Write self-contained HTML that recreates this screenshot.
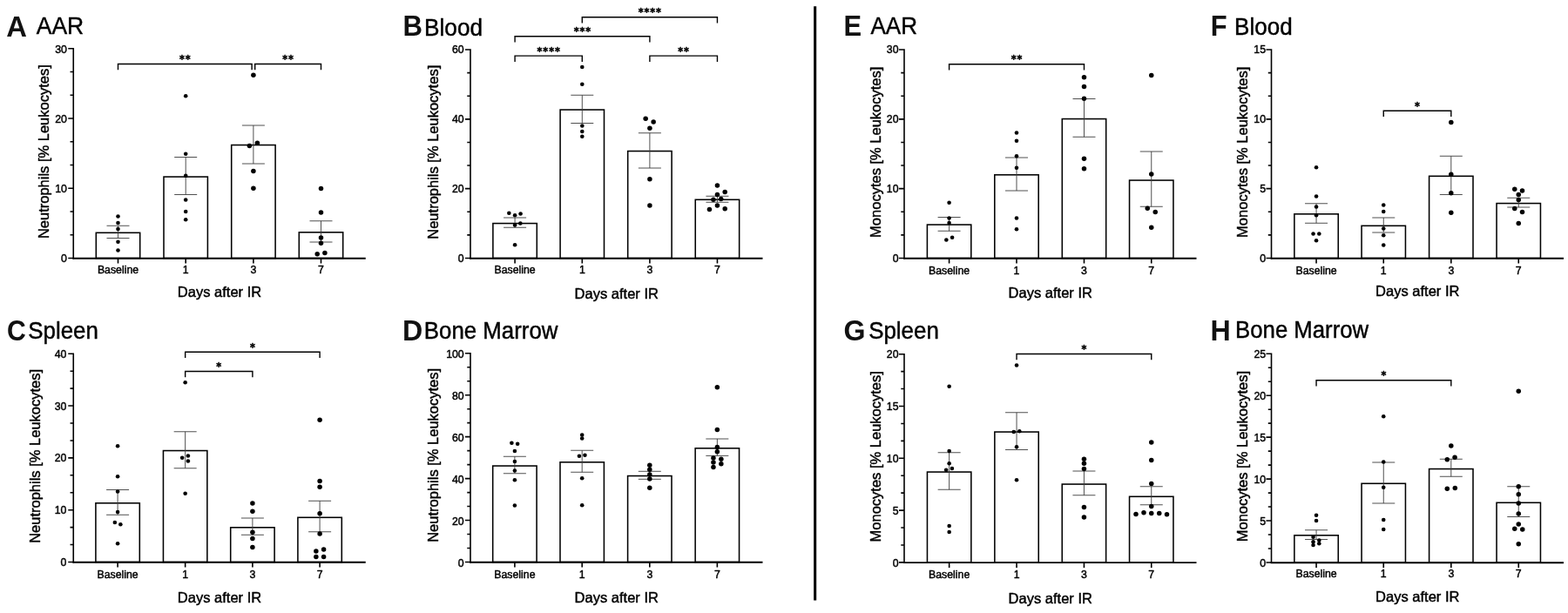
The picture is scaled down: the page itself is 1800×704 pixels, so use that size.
<!DOCTYPE html>
<html lang="en">
<head>
<meta charset="utf-8">
<title>Neutrophils and monocytes after IR</title>
<style>
html,body{margin:0;padding:0;background:#fff;}
body{width:1800px;height:704px;overflow:hidden;}
svg{display:block;filter:blur(0.35px);font-family:"Liberation Sans",sans-serif;}
.pl{font-weight:bold;fill:#111;stroke:none !important;}
.pt{fill:#000;}
.tk{font-size:12.3px;fill:#000;}
.at{font-size:16.5px;fill:#000;}
.st{font-family:"DejaVu Sans","Liberation Sans",sans-serif;font-weight:bold;fill:#000;stroke:#000;stroke-width:0.55px;}
.bar{fill:#fff;stroke:#000;stroke-width:1.55;}
.err{fill:none;stroke:#3c3c3c;stroke-width:0.9;}
.axis{fill:none;stroke:#000;stroke-width:1.6;}
.xaxis{fill:none;stroke:#000;stroke-width:1.85;}
.br{fill:none;stroke:#000;stroke-width:1.4;}
circle{fill:#000;}
text{stroke:#000;stroke-width:0.45px;stroke-linejoin:round;}
</style>
</head>
<body>
<svg width="1800" height="704" viewBox="0 0 1800 704">
<rect x="0" y="0" width="1800" height="704" fill="#fff"/>
<line x1="935.65" y1="7.3" x2="935.65" y2="689.5" stroke="#000" stroke-width="3.1"/>
<g>
<text class="pl" font-size="33.45" transform="translate(7.18 41.5) scale(0.9815 1)">A</text>
<text class="pt" font-size="27.64" transform="translate(41.73 39) scale(0.9589 1)">AAR</text>
<rect class="bar" x="110.3" y="267.3" width="50.4" height="29.2"/>
<rect class="bar" x="188" y="203.05" width="50.4" height="93.45"/>
<rect class="bar" x="265.7" y="166.55" width="50.4" height="129.95"/>
<rect class="bar" x="343.3" y="266.8" width="50.4" height="29.7"/>
<path class="err" d="M135.5 259.25V273.5M122.5 259.25H148.5M122.5 273.5H148.5M213.2 180.5V223.5M200.2 180.5H226.2M200.2 223.5H226.2M290.9 144V188M277.9 144H303.9M277.9 188H303.9M368.5 253.75V278M355.5 253.75H381.5M355.5 278H381.5"/>
<path class="xaxis" d="M83.45 296.75H419.75"/>
<path class="axis" d="M84.25 55V297.5M84.25 296.5H78.25M84.25 216.27H78.25M84.25 136.03H78.25M84.25 55.8H78.25M84.25 269.76H80.55M84.25 243.01H80.55M84.25 189.52H80.55M84.25 162.78H80.55M84.25 109.29H80.55M84.25 82.54H80.55M135.5 296.5V302.5M213.2 296.5V302.5M290.9 296.5V302.5M368.5 296.5V302.5"/>
<text class="tk" text-anchor="end" x="76.95" y="301.35">0</text>
<text class="tk" text-anchor="end" x="76.95" y="221.12">10</text>
<text class="tk" text-anchor="end" x="76.95" y="140.88">20</text>
<text class="tk" text-anchor="end" x="76.95" y="60.65">30</text>
<text class="tk" text-anchor="middle" x="135.5" y="314.2">Baseline</text>
<text class="tk" text-anchor="middle" x="213.2" y="314.2">1</text>
<text class="tk" text-anchor="middle" x="290.9" y="314.2">3</text>
<text class="tk" text-anchor="middle" x="368.5" y="314.2">7</text>
<text class="at" text-anchor="middle" x="252" y="341.1">Days after IR</text>
<text class="at" text-anchor="middle" transform="translate(56 174.15) rotate(-90)">Neutrophils [% Leukocytes]</text>
<circle cx="135.5" cy="248.5" r="2.3"/>
<circle cx="135.5" cy="256" r="2.3"/>
<circle cx="135.5" cy="263" r="2.3"/>
<circle cx="135.5" cy="277.75" r="2.3"/>
<circle cx="135.5" cy="287.5" r="2.3"/>
<circle cx="213.2" cy="110.25" r="2.3"/>
<circle cx="213.2" cy="176.75" r="2.3"/>
<circle cx="213.2" cy="201.75" r="2.3"/>
<circle cx="213.2" cy="229.5" r="2.3"/>
<circle cx="213.2" cy="243" r="2.3"/>
<circle cx="213.2" cy="252.25" r="2.3"/>
<circle cx="290.9" cy="86.25" r="2.75"/>
<circle cx="286.4" cy="167.5" r="2.75"/>
<circle cx="295.4" cy="164.25" r="2.75"/>
<circle cx="290.9" cy="196.5" r="2.75"/>
<circle cx="290.9" cy="216.25" r="2.75"/>
<circle cx="368.5" cy="216.5" r="2.75"/>
<circle cx="368.5" cy="244" r="2.75"/>
<circle cx="368.5" cy="273" r="2.75"/>
<circle cx="368.5" cy="279.25" r="2.75"/>
<circle cx="364.2" cy="291.75" r="2.75"/>
<circle cx="372.9" cy="290.5" r="2.75"/>
<path class="br" d="M135.5 80.25V73.45H289.1V80.25"/>
<text class="st" font-size="12.9" transform="translate(0 72.23) scale(0.87 1)" x="236.76 244.54">**</text>
<path class="br" d="M292.7 80.25V73.45H368.5V80.25"/>
<text class="st" font-size="12.9" transform="translate(0 72.23) scale(0.87 1)" x="372.74 380.52">**</text>
</g>
<g>
<text class="pl" font-size="33.02" transform="translate(462.4 41.2) scale(0.9433 1)">B</text>
<text class="pt" font-size="27.86" transform="translate(487.04 41) scale(0.9417 1)">Blood</text>
<rect class="bar" x="565.9" y="256.55" width="50.4" height="39.95"/>
<rect class="bar" x="643.1" y="126.05" width="50.4" height="170.45"/>
<rect class="bar" x="720.7" y="173.55" width="50.4" height="122.95"/>
<rect class="bar" x="798.25" y="229.3" width="50.4" height="67.2"/>
<path class="err" d="M591.1 250V261.25M578.1 250H604.1M578.1 261.25H604.1M668.3 109.25V141.5M655.3 109.25H681.3M655.3 141.5H681.3M745.9 152.75V193M732.9 152.75H758.9M732.9 193H758.9M823.45 225.25V232.25M810.45 225.25H836.45M810.45 232.25H836.45"/>
<path class="xaxis" d="M539.2 296.75H875.5"/>
<path class="axis" d="M540 56.2V297.5M540 296.5H534M540 216.67H534M540 136.83H534M540 57H534M540 269.89H536.3M540 243.28H536.3M540 190.06H536.3M540 163.44H536.3M540 110.22H536.3M540 83.61H536.3M591.1 296.5V302.5M668.3 296.5V302.5M745.9 296.5V302.5M823.45 296.5V302.5"/>
<text class="tk" text-anchor="end" x="532.7" y="300.6">0</text>
<text class="tk" text-anchor="end" x="532.7" y="220.77">20</text>
<text class="tk" text-anchor="end" x="532.7" y="140.93">40</text>
<text class="tk" text-anchor="end" x="532.7" y="61.1">60</text>
<text class="tk" text-anchor="middle" x="591.1" y="314.2">Baseline</text>
<text class="tk" text-anchor="middle" x="668.3" y="314.2">1</text>
<text class="tk" text-anchor="middle" x="745.9" y="314.2">3</text>
<text class="tk" text-anchor="middle" x="823.45" y="314.2">7</text>
<text class="at" text-anchor="middle" x="707.75" y="343">Days after IR</text>
<text class="at" text-anchor="middle" transform="translate(502.5 174.75) rotate(-90)">Neutrophils [% Leukocytes]</text>
<circle cx="584.35" cy="244.75" r="2.3"/>
<circle cx="591.1" cy="247.25" r="2.3"/>
<circle cx="597.6" cy="245.5" r="2.3"/>
<circle cx="591.1" cy="258.5" r="2.3"/>
<circle cx="597.35" cy="256.5" r="2.3"/>
<circle cx="591.1" cy="281.25" r="2.3"/>
<circle cx="668.3" cy="77" r="2.3"/>
<circle cx="668.3" cy="96.75" r="2.3"/>
<circle cx="668.3" cy="144.5" r="2.3"/>
<circle cx="668.3" cy="151" r="2.3"/>
<circle cx="668.3" cy="156.75" r="2.3"/>
<circle cx="741.15" cy="136.25" r="2.75"/>
<circle cx="750.15" cy="140" r="2.75"/>
<circle cx="745.9" cy="147.25" r="2.75"/>
<circle cx="745.9" cy="205.75" r="2.75"/>
<circle cx="745.9" cy="236" r="2.75"/>
<circle cx="823.45" cy="213" r="2.75"/>
<circle cx="832.2" cy="220.5" r="2.75"/>
<circle cx="823.45" cy="223.5" r="2.75"/>
<circle cx="818.95" cy="229.25" r="2.75"/>
<circle cx="827.7" cy="228.5" r="2.75"/>
<circle cx="823.45" cy="236" r="2.75"/>
<circle cx="814.45" cy="240.5" r="2.75"/>
<circle cx="832.2" cy="239.75" r="2.75"/>
<path class="br" d="M668.3 26.5V19.7H823.45V26.5"/>
<text class="st" font-size="12.9" transform="translate(0 18.48) scale(0.87 1)" x="842.29 850.07 857.85 865.63">****</text>
<path class="br" d="M591.1 48.5V41.7H745.9V48.5"/>
<text class="st" font-size="12.9" transform="translate(0 40.48) scale(0.87 1)" x="757.24 765.02 772.8">***</text>
<path class="br" d="M591.1 70.9V64.1H668.3V70.9"/>
<text class="st" font-size="12.9" transform="translate(0 62.88) scale(0.87 1)" x="708.75 716.53 724.31 732.1">****</text>
<path class="br" d="M745.9 70.9V64.1H823.45V70.9"/>
<text class="st" font-size="12.9" transform="translate(0 62.88) scale(0.87 1)" x="894.66 902.45">**</text>
</g>
<g>
<text class="pl" font-size="33.92" transform="translate(7.99 391.16) scale(0.8911 1)">C</text>
<text class="pt" font-size="27.31" transform="translate(32.34 388.8) scale(0.9476 1)">Spleen</text>
<rect class="bar" x="109.9" y="577.8" width="50.4" height="67.7"/>
<rect class="bar" x="187.45" y="517.55" width="50.4" height="127.95"/>
<rect class="bar" x="264.7" y="605.8" width="50.4" height="39.7"/>
<rect class="bar" x="341.9" y="594.3" width="50.4" height="51.2"/>
<path class="err" d="M135.1 562.5V591.25M122.1 562.5H148.1M122.1 591.25H148.1M212.65 495.75V537.75M199.65 495.75H225.65M199.65 537.75H225.65M289.9 595V614.25M276.9 595H302.9M276.9 614.25H302.9M367.1 575.25V610.75M354.1 575.25H380.1M354.1 610.75H380.1"/>
<path class="xaxis" d="M83.45 645.75H419.75"/>
<path class="axis" d="M84.25 405.45V646.5M84.25 645.5H78.25M84.25 585.69H78.25M84.25 525.88H78.25M84.25 466.06H78.25M84.25 406.25H78.25M84.25 625.56H80.55M84.25 605.62H80.55M84.25 565.75H80.55M84.25 545.81H80.55M84.25 505.94H80.55M84.25 486H80.55M84.25 446.12H80.55M84.25 426.19H80.55M135.1 645.5V651.5M212.65 645.5V651.5M289.9 645.5V651.5M367.1 645.5V651.5"/>
<text class="tk" text-anchor="end" x="76.35" y="650.1">0</text>
<text class="tk" text-anchor="end" x="76.35" y="590.29">10</text>
<text class="tk" text-anchor="end" x="76.35" y="530.48">20</text>
<text class="tk" text-anchor="end" x="76.35" y="470.66">30</text>
<text class="tk" text-anchor="end" x="76.35" y="410.85">40</text>
<text class="tk" text-anchor="middle" x="135.1" y="664">Baseline</text>
<text class="tk" text-anchor="middle" x="212.65" y="664">1</text>
<text class="tk" text-anchor="middle" x="289.9" y="664">3</text>
<text class="tk" text-anchor="middle" x="367.1" y="664">7</text>
<text class="at" text-anchor="middle" x="252" y="692.4">Days after IR</text>
<text class="at" text-anchor="middle" transform="translate(46 523.88) rotate(-90)">Neutrophils [% Leukocytes]</text>
<circle cx="135.1" cy="512.25" r="2.3"/>
<circle cx="135.1" cy="547.25" r="2.3"/>
<circle cx="135.1" cy="564.5" r="2.3"/>
<circle cx="135.1" cy="588" r="2.3"/>
<circle cx="131.85" cy="600" r="2.3"/>
<circle cx="138.35" cy="602.25" r="2.3"/>
<circle cx="135.1" cy="624.25" r="2.3"/>
<circle cx="212.65" cy="439.25" r="2.3"/>
<circle cx="209.15" cy="525.75" r="2.3"/>
<circle cx="215.9" cy="523.5" r="2.3"/>
<circle cx="215.9" cy="529.5" r="2.3"/>
<circle cx="212.65" cy="566.75" r="2.3"/>
<circle cx="289.9" cy="578" r="2.75"/>
<circle cx="289.9" cy="587.25" r="2.75"/>
<circle cx="289.9" cy="611.25" r="2.75"/>
<circle cx="289.9" cy="618.5" r="2.75"/>
<circle cx="289.9" cy="628.5" r="2.75"/>
<circle cx="367.1" cy="482.25" r="2.75"/>
<circle cx="367.1" cy="552.5" r="2.75"/>
<circle cx="367.1" cy="559.25" r="2.75"/>
<circle cx="367.1" cy="589.75" r="2.75"/>
<circle cx="367.1" cy="613" r="2.75"/>
<circle cx="362.85" cy="633" r="2.75"/>
<circle cx="371.6" cy="631" r="2.75"/>
<circle cx="362.85" cy="639.5" r="2.75"/>
<circle cx="371.6" cy="639.5" r="2.75"/>
<path class="br" d="M212.65 411V404.2H367.1V411"/>
<text class="st" font-size="12.9" transform="translate(0 402.98) scale(0.87 1)" x="329.82">*</text>
<path class="br" d="M212.65 433.25V426.45H289.9V433.25"/>
<text class="st" font-size="12.9" transform="translate(0 425.23) scale(0.87 1)" x="285.45">*</text>
</g>
<g>
<text class="pl" font-size="32.87" transform="translate(462.03 390.6) scale(0.9784 1)">D</text>
<text class="pt" font-size="27.49" transform="translate(486.77 388.7) scale(0.9405 1)">Bone Marrow</text>
<rect class="bar" x="565.7" y="535.05" width="50.4" height="110.45"/>
<rect class="bar" x="643" y="530.8" width="50.4" height="114.7"/>
<rect class="bar" x="720.6" y="546.55" width="50.4" height="98.95"/>
<rect class="bar" x="798.15" y="514.8" width="50.4" height="130.7"/>
<path class="err" d="M590.9 524.25V543.75M577.9 524.25H603.9M577.9 543.75H603.9M668.2 517.25V542.25M655.2 517.25H681.2M655.2 542.25H681.2M745.8 541.3V550.3M732.8 541.3H758.8M732.8 550.3H758.8M823.35 504V523.4M810.35 504H836.35M810.35 523.4H836.35"/>
<path class="xaxis" d="M539.2 645.75H875.5"/>
<path class="axis" d="M540 404.95V646.5M540 645.5H534M540 597.55H534M540 549.6H534M540 501.65H534M540 453.7H534M540 405.75H534M540 629.52H536.3M540 613.53H536.3M540 581.57H536.3M540 565.58H536.3M540 533.62H536.3M540 517.63H536.3M540 485.67H536.3M540 469.68H536.3M540 437.72H536.3M540 421.73H536.3M590.9 645.5V651.5M668.2 645.5V651.5M745.8 645.5V651.5M823.35 645.5V651.5"/>
<text class="tk" text-anchor="end" x="532.7" y="650.7">0</text>
<text class="tk" text-anchor="end" x="532.7" y="602.75">20</text>
<text class="tk" text-anchor="end" x="532.7" y="554.8">40</text>
<text class="tk" text-anchor="end" x="532.7" y="506.85">60</text>
<text class="tk" text-anchor="end" x="532.7" y="458.9">80</text>
<text class="tk" text-anchor="end" x="532.7" y="410.95">100</text>
<text class="tk" text-anchor="middle" x="590.9" y="664">Baseline</text>
<text class="tk" text-anchor="middle" x="668.2" y="664">1</text>
<text class="tk" text-anchor="middle" x="745.8" y="664">3</text>
<text class="tk" text-anchor="middle" x="823.35" y="664">7</text>
<text class="at" text-anchor="middle" x="707.75" y="692.3">Days after IR</text>
<text class="at" text-anchor="middle" transform="translate(503 522.83) rotate(-90)">Neutrophils [% Leukocytes]</text>
<circle cx="587.4" cy="508.75" r="2.3"/>
<circle cx="594.15" cy="509.75" r="2.3"/>
<circle cx="590.9" cy="518" r="2.3"/>
<circle cx="590.9" cy="530" r="2.3"/>
<circle cx="590.9" cy="540.5" r="2.3"/>
<circle cx="590.9" cy="551.25" r="2.3"/>
<circle cx="590.9" cy="580.5" r="2.3"/>
<circle cx="668.2" cy="499.5" r="2.3"/>
<circle cx="668.2" cy="503.5" r="2.3"/>
<circle cx="664.95" cy="523.75" r="2.3"/>
<circle cx="671.45" cy="522.75" r="2.3"/>
<circle cx="668.2" cy="549.25" r="2.3"/>
<circle cx="668.2" cy="580.25" r="2.3"/>
<circle cx="745.8" cy="534.25" r="2.75"/>
<circle cx="745.8" cy="539.25" r="2.75"/>
<circle cx="745.8" cy="545" r="2.75"/>
<circle cx="745.8" cy="550" r="2.75"/>
<circle cx="745.8" cy="560.25" r="2.75"/>
<circle cx="823.35" cy="444.75" r="2.75"/>
<circle cx="823.35" cy="493.4" r="2.75"/>
<circle cx="823.35" cy="513.6" r="2.75"/>
<circle cx="823.35" cy="518.75" r="2.75"/>
<circle cx="818.95" cy="526.1" r="2.75"/>
<circle cx="818.95" cy="531.1" r="2.75"/>
<circle cx="818.95" cy="536.6" r="2.75"/>
<circle cx="827.85" cy="527.3" r="2.75"/>
<circle cx="827.85" cy="532.7" r="2.75"/>
</g>
<g>
<text class="pl" font-size="33.02" transform="translate(968.41 41.2) scale(0.9356 1)">E</text>
<text class="pt" font-size="27.93" transform="translate(999.43 38.5) scale(0.9329 1)">AAR</text>
<rect class="bar" x="1064.4" y="258.05" width="50.4" height="38.45"/>
<rect class="bar" x="1141.8" y="200.8" width="50.4" height="95.7"/>
<rect class="bar" x="1219.3" y="136.55" width="50.4" height="159.95"/>
<rect class="bar" x="1296.55" y="207.05" width="50.4" height="89.45"/>
<path class="err" d="M1089.6 249.5V265.25M1076.6 249.5H1102.6M1076.6 265.25H1102.6M1167 181V219M1154 181H1180M1154 219H1180M1244.5 113.5V157.25M1231.5 113.5H1257.5M1231.5 157.25H1257.5M1321.75 174V237.25M1308.75 174H1334.75M1308.75 237.25H1334.75"/>
<path class="xaxis" d="M1037.2 296.75H1373.5"/>
<path class="axis" d="M1038 56.2V297.5M1038 296.5H1032M1038 216.67H1032M1038 136.83H1032M1038 57H1032M1038 269.89H1034.3M1038 243.28H1034.3M1038 190.06H1034.3M1038 163.44H1034.3M1038 110.22H1034.3M1038 83.61H1034.3M1089.6 296.5V302.5M1167 296.5V302.5M1244.5 296.5V302.5M1321.75 296.5V302.5"/>
<text class="tk" text-anchor="end" x="1031.5" y="300.5">0</text>
<text class="tk" text-anchor="end" x="1031.5" y="220.67">10</text>
<text class="tk" text-anchor="end" x="1031.5" y="140.83">20</text>
<text class="tk" text-anchor="end" x="1031.5" y="61">30</text>
<text class="tk" text-anchor="middle" x="1089.6" y="314.7">Baseline</text>
<text class="tk" text-anchor="middle" x="1167" y="314.7">1</text>
<text class="tk" text-anchor="middle" x="1244.5" y="314.7">3</text>
<text class="tk" text-anchor="middle" x="1321.75" y="314.7">7</text>
<text class="at" text-anchor="middle" x="1205.75" y="342">Days after IR</text>
<text class="at" text-anchor="middle" transform="translate(1010.9 174.75) rotate(-90)">Monocytes [% Leukocytes]</text>
<circle cx="1089.6" cy="232.75" r="2.3"/>
<circle cx="1089.6" cy="250.5" r="2.3"/>
<circle cx="1089.6" cy="256" r="2.3"/>
<circle cx="1093.1" cy="272.75" r="2.3"/>
<circle cx="1086.35" cy="275.5" r="2.3"/>
<circle cx="1167" cy="152.5" r="2.3"/>
<circle cx="1167" cy="161.75" r="2.3"/>
<circle cx="1167" cy="179.25" r="2.3"/>
<circle cx="1167" cy="192.75" r="2.3"/>
<circle cx="1167" cy="250.5" r="2.3"/>
<circle cx="1167" cy="263.25" r="2.3"/>
<circle cx="1244.5" cy="88.75" r="2.75"/>
<circle cx="1244.5" cy="99.5" r="2.75"/>
<circle cx="1244.5" cy="113.25" r="2.75"/>
<circle cx="1244.5" cy="182.25" r="2.75"/>
<circle cx="1244.5" cy="193.75" r="2.75"/>
<circle cx="1321.75" cy="86.5" r="2.75"/>
<circle cx="1321.75" cy="200" r="2.75"/>
<circle cx="1317.25" cy="239.25" r="2.75"/>
<circle cx="1326.25" cy="243.5" r="2.75"/>
<circle cx="1321.75" cy="261.25" r="2.75"/>
<path class="br" d="M1089.6 80.5V73.7H1244.5V80.5"/>
<text class="st" font-size="12.9" transform="translate(0 72.48) scale(0.87 1)" x="1334.18 1341.96">**</text>
</g>
<g>
<text class="pl" font-size="33.02" transform="translate(1389.71 41.2) scale(0.9369 1)">F</text>
<text class="pt" font-size="26.9" transform="translate(1417.05 39.5) scale(0.9678 1)">Blood</text>
<rect class="bar" x="1485.85" y="245.8" width="50.4" height="50.7"/>
<rect class="bar" x="1563.05" y="259.3" width="50.4" height="37.2"/>
<rect class="bar" x="1640.6" y="202.3" width="50.4" height="94.2"/>
<rect class="bar" x="1718.05" y="233.55" width="50.4" height="62.95"/>
<path class="err" d="M1511.05 233.75V256.25M1498.05 233.75H1524.05M1498.05 256.25H1524.05M1588.25 250V267M1575.25 250H1601.25M1575.25 267H1601.25M1665.8 179.25V223.5M1652.8 179.25H1678.8M1652.8 223.5H1678.8M1743.25 227.25V238M1730.25 227.25H1756.25M1730.25 238H1756.25"/>
<path class="xaxis" d="M1458.7 296.75H1795"/>
<path class="axis" d="M1459.5 56.2V297.5M1459.5 296.5H1453.5M1459.5 216.67H1453.5M1459.5 136.83H1453.5M1459.5 57H1453.5M1459.5 269.89H1455.8M1459.5 243.28H1455.8M1459.5 190.06H1455.8M1459.5 163.44H1455.8M1459.5 110.22H1455.8M1459.5 83.61H1455.8M1511.05 296.5V302.5M1588.25 296.5V302.5M1665.8 296.5V302.5M1743.25 296.5V302.5"/>
<text class="tk" text-anchor="end" x="1453" y="300.7">0</text>
<text class="tk" text-anchor="end" x="1453" y="220.87">5</text>
<text class="tk" text-anchor="end" x="1453" y="141.03">10</text>
<text class="tk" text-anchor="end" x="1453" y="61.2">15</text>
<text class="tk" text-anchor="middle" x="1511.05" y="314.7">Baseline</text>
<text class="tk" text-anchor="middle" x="1588.25" y="314.7">1</text>
<text class="tk" text-anchor="middle" x="1665.8" y="314.7">3</text>
<text class="tk" text-anchor="middle" x="1743.25" y="314.7">7</text>
<text class="at" text-anchor="middle" x="1627.25" y="340.1">Days after IR</text>
<text class="at" text-anchor="middle" transform="translate(1431.6 174.75) rotate(-90)">Monocytes [% Leukocytes]</text>
<circle cx="1511.05" cy="192.25" r="2.3"/>
<circle cx="1511.05" cy="225.5" r="2.3"/>
<circle cx="1511.05" cy="237.5" r="2.3"/>
<circle cx="1511.05" cy="247.25" r="2.3"/>
<circle cx="1507.55" cy="268.5" r="2.3"/>
<circle cx="1514.3" cy="268.5" r="2.3"/>
<circle cx="1511.05" cy="276.25" r="2.3"/>
<circle cx="1588.25" cy="235.5" r="2.3"/>
<circle cx="1588.25" cy="243" r="2.3"/>
<circle cx="1588.25" cy="262.5" r="2.3"/>
<circle cx="1588.25" cy="270.25" r="2.3"/>
<circle cx="1588.25" cy="281.5" r="2.3"/>
<circle cx="1665.8" cy="140.5" r="2.75"/>
<circle cx="1665.8" cy="200.25" r="2.75"/>
<circle cx="1665.8" cy="221.75" r="2.75"/>
<circle cx="1665.8" cy="244.25" r="2.75"/>
<circle cx="1738.75" cy="217.25" r="2.75"/>
<circle cx="1747.5" cy="219" r="2.75"/>
<circle cx="1743.25" cy="223.5" r="2.75"/>
<circle cx="1743.25" cy="229.5" r="2.75"/>
<circle cx="1738.75" cy="239.5" r="2.75"/>
<circle cx="1747.5" cy="243.5" r="2.75"/>
<circle cx="1743.25" cy="256.5" r="2.75"/>
<path class="br" d="M1588.25 134V127.2H1665.8V134"/>
<text class="st" font-size="12.9" transform="translate(0 125.98) scale(0.87 1)" x="1866.77">*</text>
</g>
<g>
<text class="pl" font-size="33.92" transform="translate(968.51 391.16) scale(0.9477 1)">G</text>
<text class="pt" font-size="27.31" transform="translate(997.13 388.8) scale(0.9500 1)">Spleen</text>
<rect class="bar" x="1064.45" y="542.05" width="50.4" height="103.85"/>
<rect class="bar" x="1141.85" y="496.05" width="50.4" height="149.85"/>
<rect class="bar" x="1219.25" y="556.05" width="50.4" height="89.85"/>
<rect class="bar" x="1296.55" y="570.3" width="50.4" height="75.6"/>
<path class="err" d="M1089.65 519.75V562.25M1076.65 519.75H1102.65M1076.65 562.25H1102.65M1167.05 473.75V516.5M1154.05 473.75H1180.05M1154.05 516.5H1180.05M1244.45 541V568.75M1231.45 541H1257.45M1231.45 568.75H1257.45M1321.75 558.75V579.75M1308.75 558.75H1334.75M1308.75 579.75H1334.75"/>
<path class="xaxis" d="M1037.2 646.15H1373.5"/>
<path class="axis" d="M1038 405.9V646.9M1038 645.9H1032M1038 586.1H1032M1038 526.3H1032M1038 466.5H1032M1038 406.7H1032M1038 625.97H1034.3M1038 606.03H1034.3M1038 566.17H1034.3M1038 546.23H1034.3M1038 506.37H1034.3M1038 486.43H1034.3M1038 446.57H1034.3M1038 426.63H1034.3M1089.65 645.9V651.9M1167.05 645.9V651.9M1244.45 645.9V651.9M1321.75 645.9V651.9"/>
<text class="tk" text-anchor="end" x="1031.5" y="650.5">0</text>
<text class="tk" text-anchor="end" x="1031.5" y="590.7">5</text>
<text class="tk" text-anchor="end" x="1031.5" y="530.9">10</text>
<text class="tk" text-anchor="end" x="1031.5" y="471.1">15</text>
<text class="tk" text-anchor="end" x="1031.5" y="411.3">20</text>
<text class="tk" text-anchor="middle" x="1089.65" y="664">Baseline</text>
<text class="tk" text-anchor="middle" x="1167.05" y="664">1</text>
<text class="tk" text-anchor="middle" x="1244.45" y="664">3</text>
<text class="tk" text-anchor="middle" x="1321.75" y="664">7</text>
<text class="at" text-anchor="middle" x="1205.75" y="692.7">Days after IR</text>
<text class="at" text-anchor="middle" transform="translate(1010.8 524.3) rotate(-90)">Monocytes [% Leukocytes]</text>
<circle cx="1089.65" cy="443.75" r="2.3"/>
<circle cx="1089.65" cy="518" r="2.3"/>
<circle cx="1089.65" cy="532.25" r="2.3"/>
<circle cx="1086.15" cy="539.75" r="2.3"/>
<circle cx="1092.9" cy="538" r="2.3"/>
<circle cx="1089.65" cy="604" r="2.3"/>
<circle cx="1089.65" cy="611" r="2.3"/>
<circle cx="1167.05" cy="419.5" r="2.3"/>
<circle cx="1163.8" cy="496" r="2.3"/>
<circle cx="1170.3" cy="495.25" r="2.3"/>
<circle cx="1167.05" cy="513.25" r="2.3"/>
<circle cx="1167.05" cy="551.25" r="2.3"/>
<circle cx="1244.45" cy="527.25" r="2.75"/>
<circle cx="1244.45" cy="532.25" r="2.75"/>
<circle cx="1244.45" cy="538.5" r="2.75"/>
<circle cx="1244.45" cy="582.5" r="2.75"/>
<circle cx="1244.45" cy="594" r="2.75"/>
<circle cx="1321.75" cy="508" r="2.75"/>
<circle cx="1321.75" cy="528.4" r="2.75"/>
<circle cx="1321.75" cy="555.5" r="2.75"/>
<circle cx="1321.75" cy="581.5" r="2.75"/>
<circle cx="1304" cy="590.5" r="2.75"/>
<circle cx="1313" cy="588.75" r="2.75"/>
<circle cx="1321.75" cy="589.5" r="2.75"/>
<circle cx="1330.75" cy="589.5" r="2.75"/>
<circle cx="1339.5" cy="590.75" r="2.75"/>
<path class="br" d="M1167.05 413.25V406.45H1321.75V413.25"/>
<text class="st" font-size="12.9" transform="translate(0 405.23) scale(0.87 1)" x="1426.97">*</text>
</g>
<g>
<text class="pl" font-size="32.87" transform="translate(1389.53 390.6) scale(0.9786 1)">H</text>
<text class="pt" font-size="27.49" transform="translate(1418.08 388) scale(0.9367 1)">Bone Marrow</text>
<rect class="bar" x="1485.85" y="614.8" width="50.4" height="31.2"/>
<rect class="bar" x="1563.05" y="555.3" width="50.4" height="90.7"/>
<rect class="bar" x="1640.6" y="538.55" width="50.4" height="107.45"/>
<rect class="bar" x="1718.05" y="577.3" width="50.4" height="68.7"/>
<path class="err" d="M1511.05 608.75V619.5M1498.05 608.75H1524.05M1498.05 619.5H1524.05M1588.25 531V578M1575.25 531H1601.25M1575.25 578H1601.25M1665.8 527.25V547.25M1652.8 527.25H1678.8M1652.8 547.25H1678.8M1743.25 558.75V593.5M1730.25 558.75H1756.25M1730.25 593.5H1756.25"/>
<path class="xaxis" d="M1458.7 646.25H1795"/>
<path class="axis" d="M1459.5 405.45V647M1459.5 646H1453.5M1459.5 598.05H1453.5M1459.5 550.1H1453.5M1459.5 502.15H1453.5M1459.5 454.2H1453.5M1459.5 406.25H1453.5M1459.5 630.02H1455.8M1459.5 614.03H1455.8M1459.5 582.07H1455.8M1459.5 566.08H1455.8M1459.5 534.12H1455.8M1459.5 518.13H1455.8M1459.5 486.17H1455.8M1459.5 470.18H1455.8M1459.5 438.22H1455.8M1459.5 422.23H1455.8M1511.05 646V652M1588.25 646V652M1665.8 646V652M1743.25 646V652"/>
<text class="tk" text-anchor="end" x="1453.1" y="650.9">0</text>
<text class="tk" text-anchor="end" x="1453.1" y="602.95">5</text>
<text class="tk" text-anchor="end" x="1453.1" y="555">10</text>
<text class="tk" text-anchor="end" x="1453.1" y="507.05">15</text>
<text class="tk" text-anchor="end" x="1453.1" y="459.1">20</text>
<text class="tk" text-anchor="end" x="1453.1" y="411.15">25</text>
<text class="tk" text-anchor="middle" x="1511.05" y="663.3">Baseline</text>
<text class="tk" text-anchor="middle" x="1588.25" y="663.3">1</text>
<text class="tk" text-anchor="middle" x="1665.8" y="663.3">3</text>
<text class="tk" text-anchor="middle" x="1743.25" y="663.3">7</text>
<text class="at" text-anchor="middle" x="1627.25" y="691.2">Days after IR</text>
<text class="at" text-anchor="middle" transform="translate(1432 524.12) rotate(-90)">Monocytes [% Leukocytes]</text>
<circle cx="1511.05" cy="591.75" r="2.3"/>
<circle cx="1511.05" cy="598" r="2.3"/>
<circle cx="1507.55" cy="616.75" r="2.3"/>
<circle cx="1514.3" cy="620.5" r="2.3"/>
<circle cx="1507.55" cy="622.25" r="2.3"/>
<circle cx="1514.3" cy="624.25" r="2.3"/>
<circle cx="1507.55" cy="626" r="2.3"/>
<circle cx="1588.25" cy="478.25" r="2.3"/>
<circle cx="1588.25" cy="530.5" r="2.3"/>
<circle cx="1588.25" cy="559.75" r="2.3"/>
<circle cx="1588.25" cy="597" r="2.3"/>
<circle cx="1588.25" cy="608" r="2.3"/>
<circle cx="1665.8" cy="512" r="2.75"/>
<circle cx="1661.3" cy="527.75" r="2.75"/>
<circle cx="1670.05" cy="525.25" r="2.75"/>
<circle cx="1661.3" cy="561.25" r="2.75"/>
<circle cx="1670.3" cy="560.5" r="2.75"/>
<circle cx="1743.25" cy="449.25" r="2.75"/>
<circle cx="1743.25" cy="558.75" r="2.75"/>
<circle cx="1743.25" cy="567.75" r="2.75"/>
<circle cx="1743.25" cy="578" r="2.75"/>
<circle cx="1743.25" cy="590" r="2.75"/>
<circle cx="1743.25" cy="602" r="2.75"/>
<circle cx="1738.75" cy="607.25" r="2.75"/>
<circle cx="1747.75" cy="608" r="2.75"/>
<circle cx="1743.25" cy="624.75" r="2.75"/>
<path class="br" d="M1511.05 443.5V436.7H1665.8V443.5"/>
<text class="st" font-size="12.9" transform="translate(0 435.48) scale(0.87 1)" x="1822.41">*</text>
</g>
</svg>
</body>
</html>
